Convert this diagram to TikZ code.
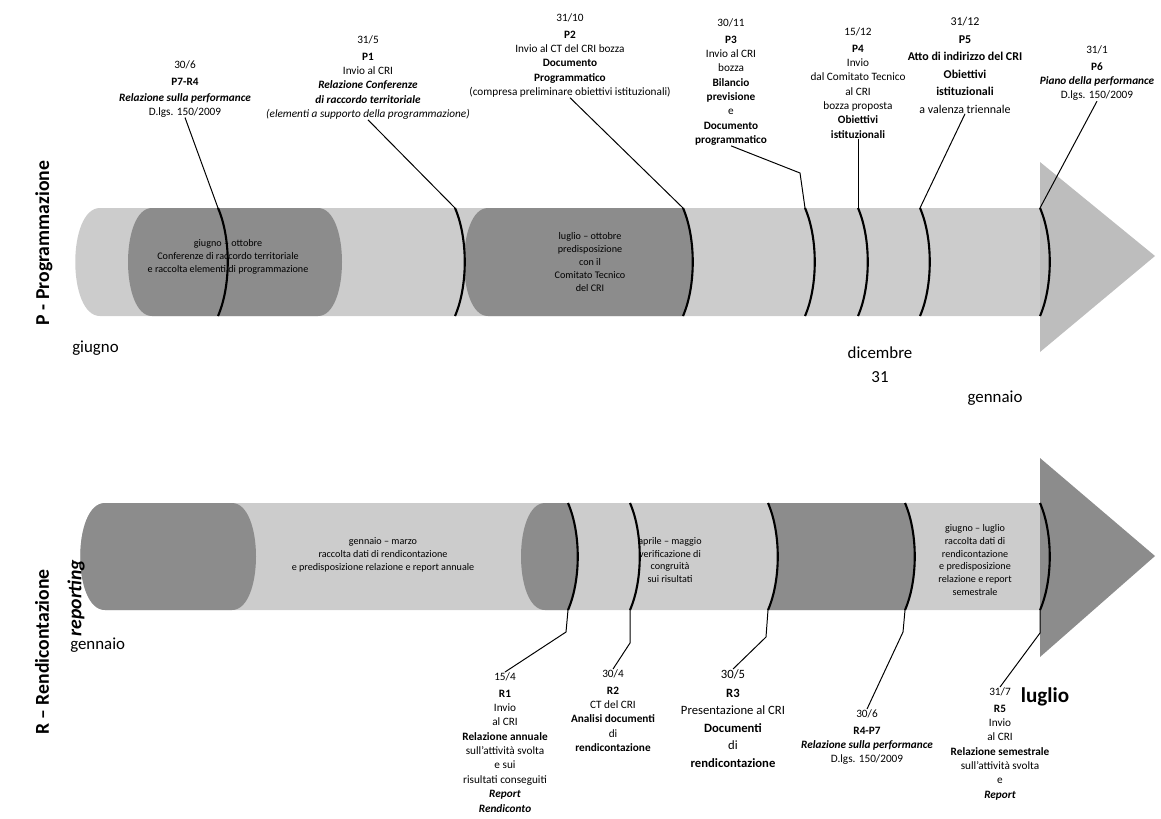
\documentclass[tikz,border=0pt]{standalone}
\usepackage{fontspec}
\setmainfont{Carlito}
\usetikzlibrary{positioning}
\definecolor{lightband}{gray}{0.80}
\definecolor{darkband}{gray}{0.55}
\definecolor{headfill}{gray}{0.74}
\tikzset{
    evt/.style={
        align=center,
        inner sep=0pt,
        font=\fontsize{8}{10.2}\selectfont
    },
    inside/.style={
        align=center,
        inner sep=0pt,
        font=\fontsize{7.2}{9.2}\selectfont
    },
    month/.style={
        inner sep=0pt,
        font=\fontsize{12}{14}\selectfont
    },
    phase/.style={
        rotate=90,
        inner sep=0pt,
        font=\bfseries\fontsize{14}{16}\selectfont
    },
    divider/.style={
        line width=1.5pt
    },
    callout/.style={
        line width=0.7pt
    }
}

\begin{document}
\begin{tikzpicture}[x=0.025cm, y=-0.025cm]
    \useasboundingbox (0,0) rectangle (1161,818);

    \fill[lightband] (100,208) -- (1040,208) -- (1040,316) -- (100,316) .. controls (67,316) and (67,208) .. (100,208) -- cycle;
    \fill[darkband] (152,208) -- (318,208) .. controls (350,208) and (350,316) .. (318,316) -- (152,316) .. controls (120,316) and (120,208) .. (152,208) -- cycle;
    \fill[darkband] (488,208) -- (683,208) .. controls (696,238) and (696,286) .. (683,316) -- (488,316) .. controls (456,316) and (456,208) .. (488,208) -- cycle;
    \fill[headfill] (1040,162) -- (1155,256) -- (1040,352) -- cycle;

    \fill[lightband] (105,503) -- (1040,503) -- (1040,610) -- (105,610) .. controls (72,610) and (72,503) .. (105,503) -- cycle;
    \fill[darkband] (105,503) -- (232,503) .. controls (264,503) and (264,610) .. (232,610) -- (105,610) .. controls (72,610) and (72,503) .. (105,503) -- cycle;
    \fill[darkband] (545,503) -- (568,503) .. controls (581,533) and (581,580) .. (568,610) -- (545,610) .. controls (513,610) and (513,503) .. (545,503) -- cycle;
    \fill[darkband] (768,503) -- (905,503) .. controls (918,533) and (918,580) .. (905,610) -- (768,610) .. controls (781,580) and (781,533) .. (768,503) -- cycle;
    \fill[darkband] (1040,458) -- (1155,556) -- (1040,657) -- cycle;

    \foreach \x/\n in {218/p74, 455/p1, 683/p2, 805/p3, 858/p4, 920/p5, 1040/p6} {
        \draw[divider] (\x,208) .. controls (\x+13,238) and (\x+13,286) .. (\x,316);
        \coordinate (\n) at (\x,208);
    }
    \foreach \x/\n in {568/r1, 630/r2, 768/r3, 905/r47, 1040/r5} {
        \draw[divider] (\x,503) .. controls (\x+13,533) and (\x+13,580) .. (\x,610);
        \coordinate (\n) at (\x,610);
    }

    \node[phase] (phaseP) at (44,243) {P - Programmazione};
    \node[phase] (phaseR) at (42,652) {R – Rendicontazione};
    \node[phase, font=\bfseries\itshape\fontsize{14}{16}\selectfont] (reporting) at (76,598) {reporting};

    \node[inside] (txtP1) at (228,257) {giugno – ottobre\\Conferenze di raccordo territoriale\\e raccolta elementi di programmazione};
    \node[inside] (txtP2) at (590,262) {luglio – ottobre\\predisposizione\\con il\\Comitato Tecnico\\del CRI};
    \node[inside] (txtR1) at (383,555) {gennaio – marzo\\raccolta dati di rendicontazione\\e predisposizione relazione e report annuale};
    \node[inside] (txtR2) at (670,560) {aprile – maggio\\verificazione di\\congruità\\sui risultati};
    \node[inside] (txtR3) at (975,560) {giugno – luglio\\raccolta dati di\\rendicontazione\\e predisposizione\\relazione e report\\semestrale};

    \node[month, anchor=west] (giugno) at (72,348) {giugno};
    \node[month, align=center] (dicembre) at (880,365) {dicembre\\[3pt]31};
    \node[month] (gennaioP) at (995,398) {gennaio};
    \node[month, anchor=west] (gennaioR) at (70,645) {gennaio};

    \node[evt, anchor=north] (lblP74) at (185,60) {30/6\\[2pt]\textbf{P7-R4}\\[1pt]\textbf{\textit{Relazione sulla performance}}\\D.lgs. 150/2009};
    \node[evt, anchor=north] (lblP1) at (368,35) {31/5\\[2pt]\textbf{P1}\\Invio al CRI\\\textbf{\textit{Relazione Conferenze}}\\\textbf{\textit{di raccordo territoriale}}\\\textit{(elementi a supporto della programmazione)}};
    \node[evt, anchor=north] (lblP2) at (570,13) {31/10\\[2pt]\textbf{P2}\\Invio al CT del CRI bozza\\\textbf{Documento}\\\textbf{Programmatico}\\(compresa preliminare obiettivi istituzionali)};
    \node[evt, anchor=north] (lblP3) at (731,18) {30/11\\[2pt]\textbf{P3}\\Invio al CRI\\bozza\\\textbf{Bilancio}\\\textbf{previsione}\\e\\\textbf{Documento}\\\textbf{programmatico}};
    \node[evt, anchor=north] (lblP4) at (858,27) {15/12\\[2pt]\textbf{P4}\\Invio\\dal Comitato Tecnico\\al CRI\\bozza proposta\\\textbf{Obiettivi}\\\textbf{istituzionali}};
    \node[evt, anchor=north, font=\fontsize{8.5}{12.5}\selectfont] (lblP5) at (965,17) {31/12\\\textbf{P5}\\\textbf{Atto di indirizzo del CRI}\\\textbf{Obiettivi}\\\textbf{istituzionali}\\a valenza triennale};
    \node[evt, anchor=north] (lblP6) at (1097,45) {31/1\\[2pt]\textbf{P6}\\\textbf{\textit{Piano della performance}}\\D.lgs. 150/2009};

    \node[evt, anchor=north] (lblR1) at (505,672) {15/4\\[2pt]\textbf{R1}\\Invio\\al CRI\\\textbf{Relazione annuale}\\sull'attività svolta\\e sui\\risultati conseguiti\\\textbf{\textit{Report}}\\\textbf{\textit{Rendiconto}}};
    \node[evt, anchor=north] (lblR2) at (613,669) {30/4\\[2pt]\textbf{R2}\\CT del CRI\\\textbf{Analisi documenti}\\di\\\textbf{rendicontazione}};
    \node[evt, anchor=north, font=\fontsize{9}{12.5}\selectfont] (lblR3) at (733,669) {30/5\\[1pt]\textbf{R3}\\Presentazione al CRI\\\textbf{Documenti}\\di\\\textbf{rendicontazione}};
    \node[evt, anchor=north] (lblR47) at (867,709) {30/6\\[2pt]\textbf{R4-P7}\\\textbf{\textit{Relazione sulla performance}}\\D.lgs. 150/2009};
    \node[evt, anchor=north] (lblR5) at (1000,687) {31/7\\[2pt]\textbf{R5}\\Invio\\al CRI\\\textbf{Relazione semestrale}\\sull'attività svolta\\e\\\textbf{\textit{Report}}};
    \node[font=\bfseries\fontsize{15}{17}\selectfont, inner sep=0pt] (luglio) at (1045,697) {luglio};

    \coordinate (p3k) at (800,173);
    \coordinate (r1k) at (566,632);
    \coordinate (r2k) at (630,643);
    \coordinate (r3k) at (766,637);
    \coordinate (r47k) at (903,632);
    \coordinate (r5k) at (1040,633);

    \draw[callout] (lblP74.south) -- (p74);
    \draw[callout] (lblP1.south) -- (p1);
    \draw[callout] (lblP2.south) -- (p2);
    \draw[callout] (lblP3.south) -- (p3k) -- (p3);
    \draw[callout] (lblP4.south) -- (p4);
    \draw[callout] (lblP5.south) -- (p5);
    \draw[callout] (lblP6.south) -- (p6);
    \draw[callout] (r1) -- (r1k) -- (lblR1.north);
    \draw[callout] (r2) -- (r2k) -- (lblR2.north);
    \draw[callout] (r3) -- (r3k) -- (lblR3.north);
    \draw[callout] (r47) -- (r47k) -- (lblR47.north);
    \draw[callout] (r5) -- (r5k) -- (lblR5.north);
\end{tikzpicture}
\end{document}
